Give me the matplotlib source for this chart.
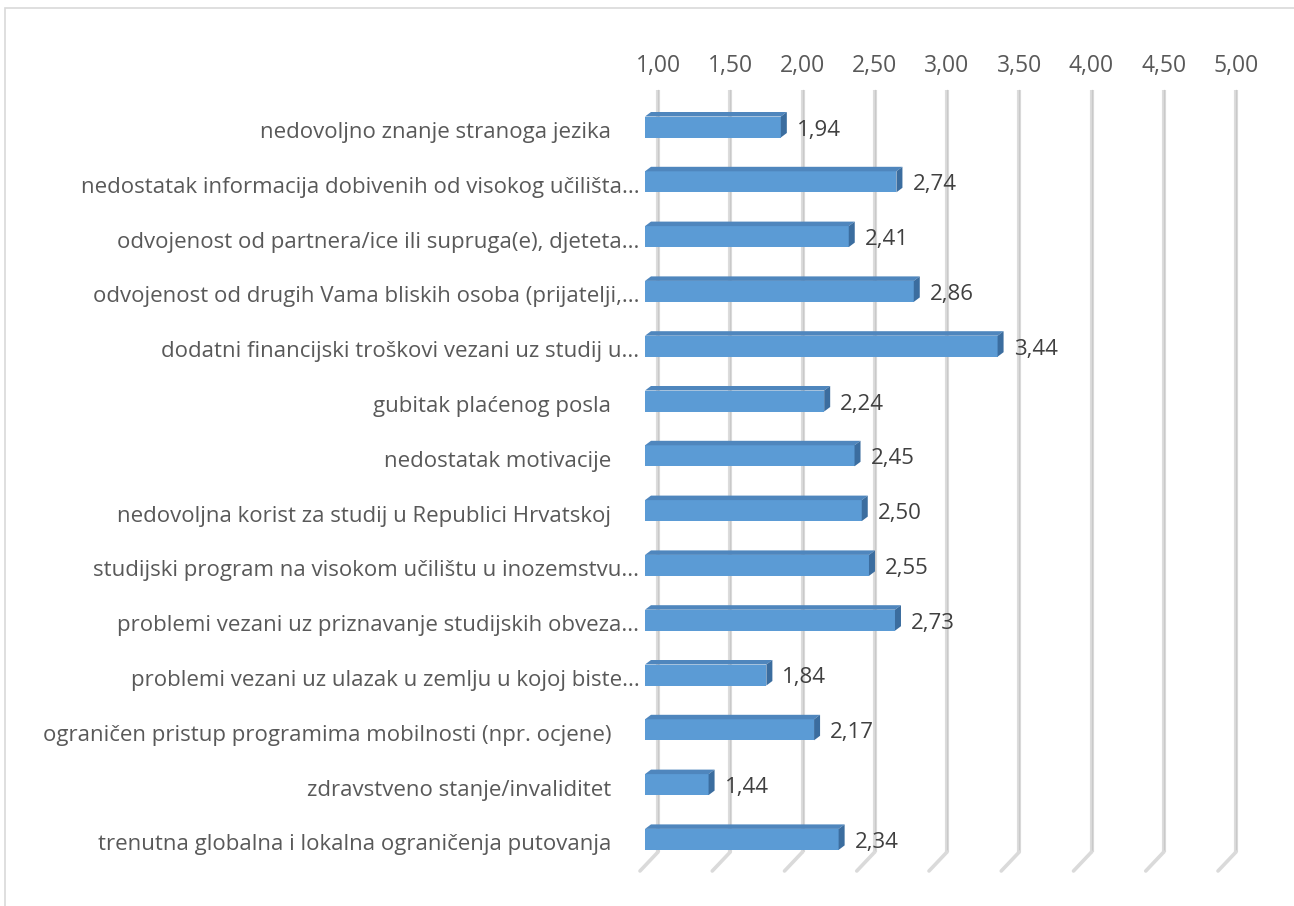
"""Prepreke za mobilnost - horizontal 3D-style bar chart."""

import numpy as np
import matplotlib.pyplot as plt
from matplotlib.patches import Polygon, Rectangle
from matplotlib.transforms import ScaledTranslation, offset_copy

categories = [
    "nedovoljno znanje stranoga jezika",
    "nedostatak informacija dobivenih od visokog učilišta...",
    "odvojenost od partnera/ice ili supruga(e), djeteta...",
    "odvojenost od drugih Vama bliskih osoba (prijatelji,...",
    "dodatni financijski troškovi vezani uz studij u...",
    "gubitak plaćenog posla",
    "nedostatak motivacije",
    "nedovoljna korist za studij u Republici Hrvatskoj",
    "studijski program na visokom učilištu u inozemstvu...",
    "problemi vezani uz priznavanje studijskih obveza...",
    "problemi vezani uz ulazak u zemlju u kojoj biste...",
    "ograničen pristup programima mobilnosti (npr. ocjene)",
    "zdravstveno stanje/invaliditet",
    "trenutna globalna i lokalna ograničenja putovanja",
]
values = [1.94, 2.74, 2.41, 2.86, 3.44, 2.24, 2.45, 2.50, 2.55, 2.73, 1.84, 2.17, 1.44, 2.34]
xticks = [1.0, 1.5, 2.0, 2.5, 3.0, 3.5, 4.0, 4.5, 5.0]
xtick_labels = ["1,00", "1,50", "2,00", "2,50", "3,00", "3,50", "4,00", "4,50", "5,00"]

plt.rcParams["font.family"] = ["Open Sans", "DejaVu Sans"]

W, H = 1294, 906
fig = plt.figure(figsize=(W / 100, H / 100), dpi=100)

# Plot area in pixels (front plane of the bars)
x0, x1 = 645, 645 + 4 * 144.5
y_top, y_bot = 90, 852
row0, step = 127, 54.8
ax = fig.add_axes([x0 / W, 1 - y_bot / H, (x1 - x0) / W, (y_bot - y_top) / H])
ax.set_xlim(1, 5)
ax.set_ylim(13 + (y_bot - (row0 + 13 * step)) / step, -(row0 - y_top) / step)
ax.patch.set_visible(False)
for s in ax.spines.values():
    s.set_visible(False)

# Gridlines on the back wall, with a floor foot
grid_tr = offset_copy(ax.transData, fig=fig, x=13, y=0, units="dots")
ybot, ytop = ax.get_ylim()
for xv in xticks:
    ax.plot([xv, xv], [ybot, ytop], transform=grid_tr, color="#dcdcdc", lw=3.0,
            solid_capstyle="butt", zorder=1, clip_on=False)
    ax.plot([xv, xv], [ybot, ytop], transform=grid_tr, color="#c9c9c9", lw=0.9,
            zorder=1, clip_on=False)
    ax.annotate("", xy=(xv, ybot), xycoords=grid_tr, xytext=(-18, -19),
                textcoords="offset pixels", zorder=1,
                arrowprops=dict(arrowstyle="-", color="#dadada", lw=2.6,
                                shrinkA=0, shrinkB=0))

# Bars: front face + top and side faces for the 3D look
ypos = np.arange(len(categories))
bar_h = 21 / step
dx, dy = 6 / 144.5, -4.5 / step
vals = np.array(values)
ax.barh(ypos, vals - 1, left=1, height=bar_h, color="#5b9bd5", zorder=3)
for y, v in zip(ypos, vals):
    t, b = y - bar_h / 2, y + bar_h / 2
    ax.add_patch(Polygon([(1, t), (v, t), (v + dx, t + dy), (1 + dx, t + dy)],
                         closed=True, fc="#4f86bd", ec="none", zorder=3))
    ax.add_patch(Polygon([(v, t), (v, b), (v + dx, b + dy), (v + dx, t + dy)],
                         closed=True, fc="#3b6d9f", ec="none", zorder=3))
    ax.annotate(f"{v:.2f}".replace(".", ","), xy=(v, y), xytext=(16, -3),
                textcoords="offset pixels", va="center", ha="left",
                fontsize=16, color="#404040", zorder=4)

# Axis labels
ax.xaxis.tick_top()
ax.set_xticks(xticks)
ax.set_xticklabels(xtick_labels)
ax.tick_params(axis="x", length=0, pad=9, labelsize=16.5, labelcolor="#595959")
for lab in ax.get_xticklabels():
    lab.set_transform(lab.get_transform() + ScaledTranslation(0.13, 0, fig.dpi_scale_trans))

ax.set_yticks(ypos)
ax.set_yticklabels(categories)
ax.tick_params(axis="y", length=0, pad=4, labelsize=16, labelcolor="#595959")
for lab in ax.get_yticklabels():
    shift = 0 if lab.get_text().endswith("...") else -28
    lab.set_transform(lab.get_transform() + ScaledTranslation(shift / 100, -3 / 100, fig.dpi_scale_trans))

# Chart border (only left and top edges are in frame)
fig.add_artist(Rectangle((5 / W, -0.5), 2.0, 1.5 - 8 / H, transform=fig.transFigure,
                         fill=False, ec="#d9d9d9", lw=1.2))

fig.savefig("out.png", dpi=100)
